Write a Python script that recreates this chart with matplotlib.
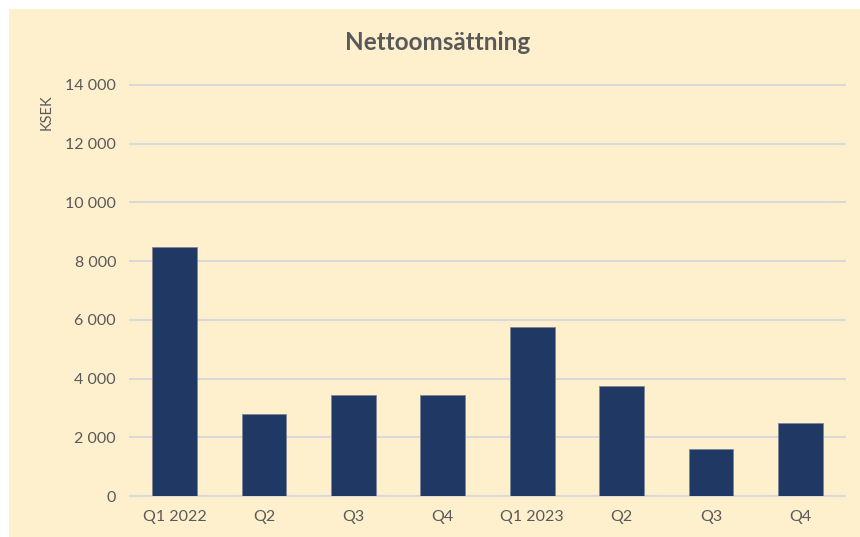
import matplotlib.pyplot as plt
from matplotlib.patches import Rectangle

# data
quarters = ["Q1 2022", "Q2", "Q3", "Q4", "Q1 2023", "Q2", "Q3", "Q4"]
revenue = [8480, 2790, 3450, 3450, 5760, 3750, 1610, 2490]
y_ticks = [0, 2000, 4000, 6000, 8000, 10000, 12000, 14000]

BG = "#FFF0CD"
BAR = "#203864"
TXT = "#595959"
GRID = "#D9D9D9"

plt.rcParams['font.family'] = ['Lato', 'DejaVu Sans']

fig = plt.figure(figsize=(8.6, 5.37), dpi=100)
fig.patch.set_facecolor("white")
fig.patches.append(Rectangle((9 / 860, 0), 1, 1 - 9 / 537, transform=fig.transFigure,
                             facecolor=BG, edgecolor="none", zorder=-10))

ax = fig.add_axes([130 / 860, 1 - 496 / 537, 715 / 860, 411 / 537])
ax.set_facecolor("none")
ax.set_zorder(5)

x = range(len(quarters))
ax.bar(x, revenue, width=0.5, color=BAR, edgecolor="#7F8794", linewidth=0.6, zorder=3)

ax.set_xlim(-0.5, len(quarters) - 0.5)
ax.set_ylim(0, 14000)
ax.set_yticks(y_ticks)
ax.set_yticklabels([f"{v:,}".replace(",", " ") for v in y_ticks])
ax.set_xticks(list(x))
ax.set_xticklabels(quarters)

ax.grid(axis="y", color=GRID, linewidth=1.5, zorder=0)
for gl in ax.get_ygridlines():
    gl.set_clip_on(False)
for s in ["top", "right", "left"]:
    ax.spines[s].set_visible(False)
ax.spines["bottom"].set_color(GRID)
ax.spines["bottom"].set_linewidth(1.5)
ax.tick_params(axis="both", length=0, colors=TXT, labelsize=11.5)
ax.tick_params(axis="y", pad=10)
ax.tick_params(axis="x", pad=10)

fig.text(438 / 860, 1 - 43 / 537, "Nettoomsättning", ha="center", va="center",
         fontsize=17.5, fontweight="bold", color=TXT)
fig.text(47 / 860, 1 - 112 / 537, "KSEK", ha="center", va="center",
         rotation=90, fontsize=10.5, color=TXT)

fig.savefig("out.png", dpi=100)
